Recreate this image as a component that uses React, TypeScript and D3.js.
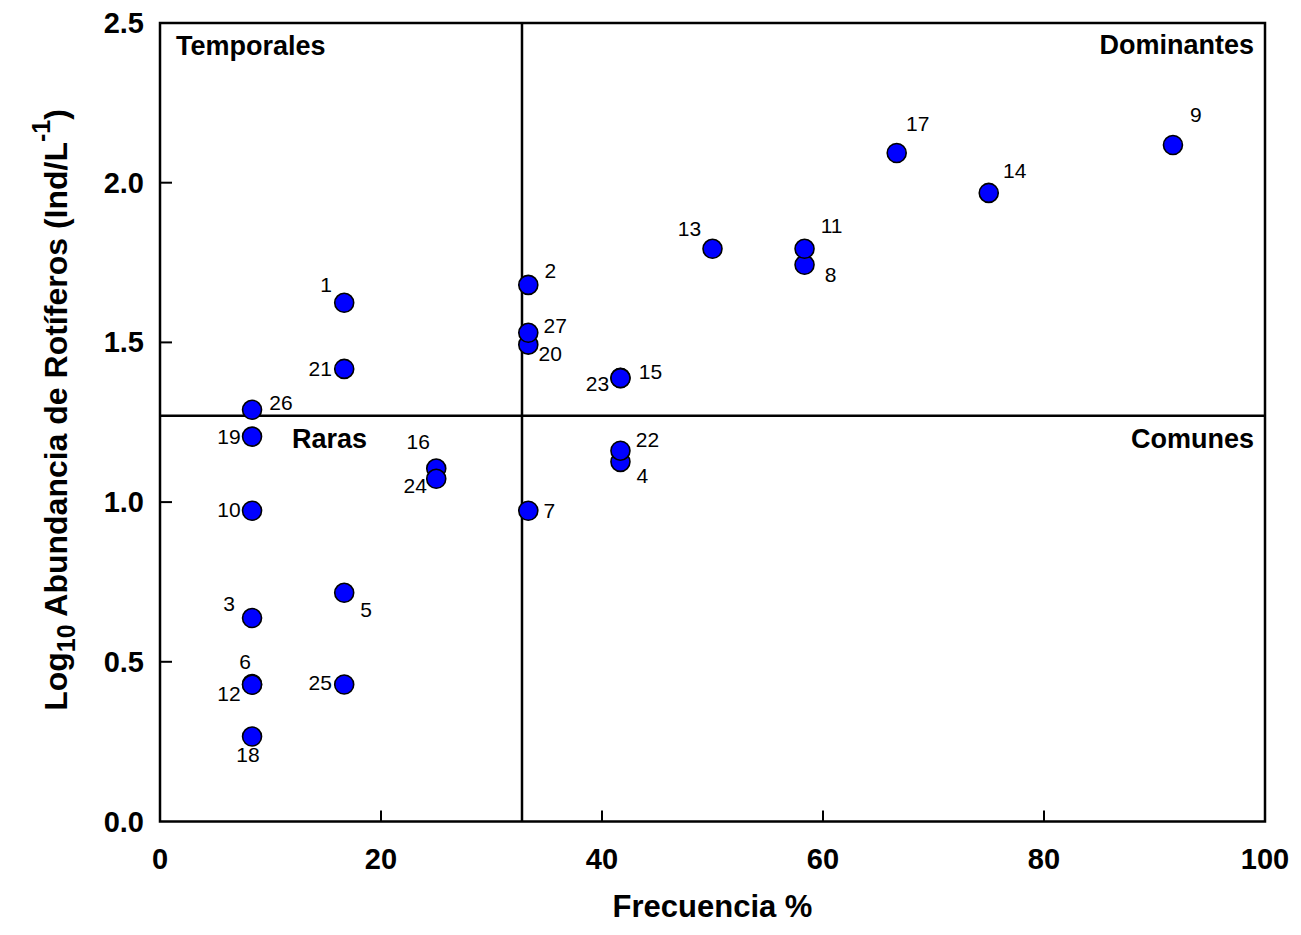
import React from "react";
import * as d3 from "d3";

// Species number, frequency (%), log10 abundance
const speciesIds = [1, 2, 3, 4, 5, 6, 7, 8, 9, 10, 11, 12, 13, 14, 15, 16, 17, 18, 19, 20, 21, 22, 23, 24, 25, 26, 27];
const frequency = [16.67, 33.33, 8.33, 41.67, 16.67, 8.33, 33.33, 58.33, 91.67, 8.33, 58.33, 8.33, 50.0, 75.0, 41.67, 25.0, 66.67, 8.33, 8.33, 33.33, 16.67, 41.67, 41.67, 25.0, 16.67, 8.33, 33.33];
const abundance = [1.624, 1.68, 0.637, 1.126, 0.716, 0.43, 0.973, 1.743, 2.118, 0.973, 1.793, 0.428, 1.793, 1.968, 1.389, 1.105, 2.093, 0.266, 1.205, 1.493, 1.417, 1.161, 1.388, 1.073, 0.429, 1.289, 1.53];
// label offsets (px) relative to point centre
const labelDx = [-18, 22, -23, 22, 22, -7, 21, 26, 23, -23, 27, -23, -23, 26, 30, -18, 21, -4, -23, 22, -24, 27, -23, -21, -24, 29, 27];
const labelDy = [-18, -14, -15, 14, 17, -23, 0, 10, -31, -1, -23, 9, -20, -22, -6, -27, -29, 18, 0, 9, 0, -11, 5, 7, -2, -7, -7];

const xTicks = [0, 20, 40, 60, 80, 100];
const yTicks = [0, 0.5, 1.0, 1.5, 2.0, 2.5];
const freqCut = 32.76;
const abundCut = 1.27;

const quadrantLabels = ["Temporales", "Dominantes", "Raras", "Comunes"];

export default function App() {
  const left = 160, right = 1265, top = 23, bottom = 821.5;
  const x = d3.scaleLinear().domain([0, 100]).range([left, right]);
  const y = d3.scaleLinear().domain([0, 2.5]).range([bottom, top]);
  const font = "Arial, 'Liberation Sans', sans-serif";

  return (
    <svg width={1301} height={935} style={{ position: "absolute", left: 0, top: 0, background: "#fff" }} fontFamily={font}>
      {/* frame */}
      <rect x={left} y={top} width={right - left} height={bottom - top} fill="none" stroke="#000" strokeWidth={2.5} />
      {/* ticks */}
      {xTicks.slice(1, -1).map((t) => (
        <line key={"xt" + t} x1={x(t)} x2={x(t)} y1={bottom} y2={bottom - 11} stroke="#000" strokeWidth={2} />
      ))}
      {yTicks.slice(1, -1).map((t) => (
        <line key={"yt" + t} x1={left} x2={left + 12} y1={y(t)} y2={y(t)} stroke="#000" strokeWidth={2} />
      ))}
      {/* tick labels */}
      {xTicks.map((t) => (
        <text key={"xl" + t} x={x(t)} y={859} textAnchor="middle" dominantBaseline="central" fontSize={29} fontWeight="bold">{t}</text>
      ))}
      {yTicks.map((t) => (
        <text key={"yl" + t} x={144} y={y(t)} textAnchor="end" dominantBaseline="central" fontSize={29} fontWeight="bold">{t.toFixed(1)}</text>
      ))}
      {/* quadrant lines */}
      <line x1={x(freqCut)} x2={x(freqCut)} y1={top} y2={bottom} stroke="#000" strokeWidth={2.5} />
      <line x1={left} x2={right} y1={y(abundCut)} y2={y(abundCut)} stroke="#000" strokeWidth={2.5} />
      {/* quadrant labels */}
      <text x={176} y={46} dominantBaseline="central" fontSize={27} fontWeight="bold">{quadrantLabels[0]}</text>
      <text x={1254} y={45} textAnchor="end" dominantBaseline="central" fontSize={27} fontWeight="bold">{quadrantLabels[1]}</text>
      <text x={292} y={439} dominantBaseline="central" fontSize={27} fontWeight="bold">{quadrantLabels[2]}</text>
      <text x={1254} y={439} textAnchor="end" dominantBaseline="central" fontSize={27} fontWeight="bold">{quadrantLabels[3]}</text>
      {/* points */}
      {speciesIds.map((id, i) => (
        <circle key={"p" + id} cx={x(frequency[i])} cy={y(abundance[i])} r={9.5} fill="#0000ff" stroke="#000" strokeWidth={1.6} />
      ))}
      {speciesIds.map((id, i) => (
        <text key={"l" + id} x={x(frequency[i]) + labelDx[i]} y={y(abundance[i]) + labelDy[i]} textAnchor="middle" dominantBaseline="central" fontSize={21}>{id}</text>
      ))}
      {/* axis titles */}
      <text x={(left + right) / 2} y={906} textAnchor="middle" dominantBaseline="central" fontSize={31} fontWeight="bold">Frecuencia %</text>
      <text transform={`translate(56, ${410}) rotate(-90)`} textAnchor="middle" dominantBaseline="central" fontSize={32} fontWeight="bold">
        Log<tspan fontSize={25} dy={10}>10</tspan>
        <tspan dy={-10}> Abundancia de Rotíferos (Ind/L</tspan>
        <tspan fontSize={25} dy={-15}>-1</tspan>
        <tspan dy={15}>)</tspan>
      </text>
    </svg>
  );
}
